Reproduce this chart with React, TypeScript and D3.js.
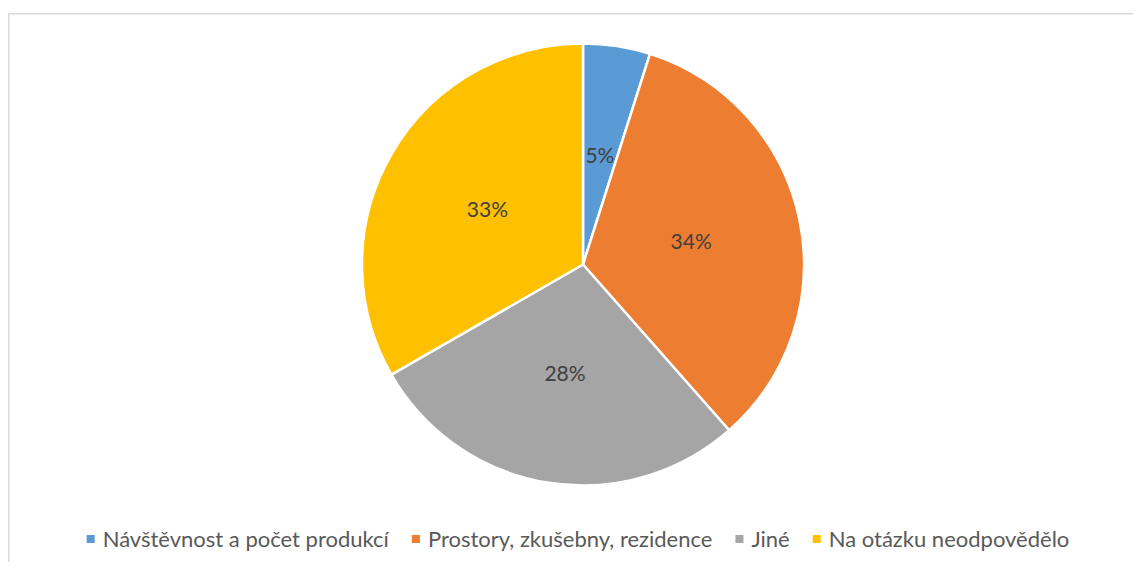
import * as d3 from "d3";
import { useEffect, useRef } from "react";

const categories = [
  "Návštěvnost a počet produkcí",
  "Prostory, zkušebny, rezidence",
  "Jiné",
  "Na otázku neodpovědělo",
];
const values = [4.9, 33.6, 28.2, 33.3];
const colors = ["#5B9BD5", "#ED7D31", "#A5A5A5", "#FFC000"];

const WIDTH = 1133;
const HEIGHT = 554;
const CENTER = { x: 575, y: 256.5 };
const RADIUS = 221;
const FONT = "Lato, 'Open Sans', sans-serif";

export default function App() {
  const ref = useRef<SVGSVGElement>(null);

  useEffect(() => {
    const svg = d3.select(ref.current);
    svg.selectAll("*").remove();

    // chart area border (right and bottom run off the page)
    svg
      .append("rect")
      .attr("x", 0.75)
      .attr("y", 5.75)
      .attr("width", WIDTH + 20)
      .attr("height", HEIGHT + 20)
      .attr("fill", "white")
      .attr("stroke", "#d9d9d9")
      .attr("stroke-width", 1.5);

    const total = d3.sum(values);
    const pie = d3
      .pie<number>()
      .sort(null)
      .value((d) => d);
    const arcs = pie(values);
    const arc = d3.arc<d3.PieArcDatum<number>>().innerRadius(0).outerRadius(RADIUS);

    const g = svg.append("g").attr("transform", `translate(${CENTER.x},${CENTER.y})`);

    g.selectAll("path")
      .data(arcs)
      .join("path")
      .attr("d", arc)
      .attr("fill", (_, i) => colors[i])
      .attr("stroke", "white")
      .attr("stroke-width", 2.5)
      .attr("stroke-linejoin", "round");

    g.selectAll("text")
      .data(arcs)
      .join("text")
      .attr("transform", (d) => `translate(${arc.centroid(d)})`)
      .attr("text-anchor", "middle")
      .attr("dy", "0.36em")
      .attr("font-family", FONT)
      .attr("font-size", 21)
      .attr("fill", "#404040")
      .text((d) => `${Math.round((d.data / total) * 100)}%`);

    // legend, measured and centred
    const legend = svg.append("g").attr("transform", `translate(0, 539)`);
    const items = legend
      .selectAll("g")
      .data(categories)
      .join("g");
    items
      .append("rect")
      .attr("width", 8)
      .attr("height", 8)
      .attr("y", -12)
      .attr("fill", (_, i) => colors[i]);
    const texts = items
      .append("text")
      .attr("x", 16)
      .attr("font-family", FONT)
      .attr("font-size", 22)
      .attr("fill", "#595959")
      .text((d) => d);

    const widths: number[] = [];
    texts.each(function () {
      widths.push((this as SVGTextElement).getComputedTextLength());
    });
    const gap = 23;
    const itemW = widths.map((w) => 16 + w);
    const totalW = d3.sum(itemW) + gap * (itemW.length - 1);
    let x = 570 - totalW / 2;
    items.attr("transform", (_, i) => {
      const t = `translate(${x},0)`;
      x += itemW[i] + gap;
      return t;
    });
  }, []);

  return <svg ref={ref} width={WIDTH} height={HEIGHT} style={{ display: "block" }} />;
}
